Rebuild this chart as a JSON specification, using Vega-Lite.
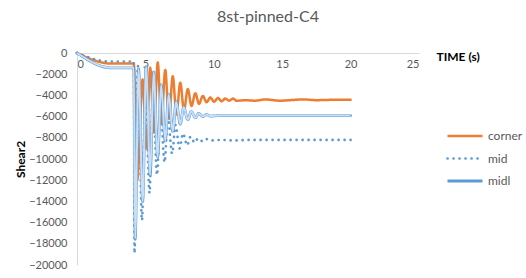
{
  "$schema": "https://vega.github.io/schema/vega-lite/v6.json",
  "width": 342,
  "height": 212,
  "autosize": {"type": "none"},
  "padding": {"left": 77, "top": 53, "right": 107, "bottom": 13},
  "background": "white",
  "title": {"text": "8st-pinned-C4", "fontSize": 16, "font": "Lato", "fontWeight": "normal", "color": "#595959", "anchor": "middle", "frame": "group", "dx": 20, "offset": 22},
  "config": {"view": {"stroke": null}},
  "data": {"values": [
    {"s":"corner","t":0,"v":0},{"s":"corner","t":2.5,"v":-1000},{"s":"corner","t":4.15,"v":-1000},
    {"s":"corner","t":4.4,"v":-12000},{"s":"corner","t":4.8,"v":-2500},{"s":"corner","t":5.07,"v":-9000},
    {"s":"corner","t":5.35,"v":-1400},{"s":"corner","t":5.62,"v":-7500},{"s":"corner","t":5.9,"v":-900},
    {"s":"corner","t":6.17,"v":-6600},{"s":"corner","t":6.45,"v":-1600},{"s":"corner","t":6.72,"v":-6200},
    {"s":"corner","t":7.0,"v":-2200},{"s":"corner","t":7.27,"v":-5800},{"s":"corner","t":7.55,"v":-2800},
    {"s":"corner","t":7.82,"v":-5400},{"s":"corner","t":8.1,"v":-3400},{"s":"corner","t":8.37,"v":-5000},
    {"s":"corner","t":8.65,"v":-3800},{"s":"corner","t":8.92,"v":-4800},{"s":"corner","t":9.2,"v":-4050},
    {"s":"corner","t":9.47,"v":-4650},{"s":"corner","t":9.75,"v":-4200},{"s":"corner","t":10.02,"v":-4600},
    {"s":"corner","t":10.3,"v":-4250},{"s":"corner","t":10.57,"v":-4550},{"s":"corner","t":10.85,"v":-4300},
    {"s":"corner","t":11.12,"v":-4500},{"s":"corner","t":11.4,"v":-4300},{"s":"corner","t":11.67,"v":-4500},
    {"s":"corner","t":12.3,"v":-4450},{"s":"corner","t":13.0,"v":-4500},{"s":"corner","t":13.8,"v":-4380},
    {"s":"corner","t":14.8,"v":-4500},{"s":"corner","t":15.6,"v":-4450},{"s":"corner","t":16.5,"v":-4380},
    {"s":"corner","t":17.5,"v":-4450},{"s":"corner","t":18.5,"v":-4420},{"s":"corner","t":19.3,"v":-4400},
    {"s":"corner","t":20,"v":-4400},

    {"s":"mid","t":0,"v":0},{"s":"mid","t":2.4,"v":-800},{"s":"mid","t":4.15,"v":-800},
    {"s":"mid","t":4.2,"v":-18900},{"s":"mid","t":4.45,"v":-1200},{"s":"mid","t":4.75,"v":-15800},
    {"s":"mid","t":5.0,"v":-2500},{"s":"mid","t":5.3,"v":-13200},{"s":"mid","t":5.55,"v":-3800},
    {"s":"mid","t":5.85,"v":-11500},{"s":"mid","t":6.1,"v":-5000},{"s":"mid","t":6.4,"v":-10300},
    {"s":"mid","t":6.65,"v":-6000},{"s":"mid","t":6.95,"v":-9500},{"s":"mid","t":7.2,"v":-6800},
    {"s":"mid","t":7.5,"v":-9000},{"s":"mid","t":7.75,"v":-7600},{"s":"mid","t":8.05,"v":-8700},
    {"s":"mid","t":8.3,"v":-7900},{"s":"mid","t":8.6,"v":-8450},{"s":"mid","t":8.85,"v":-8050},
    {"s":"mid","t":9.15,"v":-8300},{"s":"mid","t":9.4,"v":-8100},{"s":"mid","t":9.7,"v":-8250},
    {"s":"mid","t":10.6,"v":-8200},{"s":"mid","t":11.5,"v":-8250},{"s":"mid","t":12.5,"v":-8200},
    {"s":"mid","t":20,"v":-8200},

    {"s":"midl","t":0,"v":0},{"s":"midl","t":2.5,"v":-1400},{"s":"midl","t":4.15,"v":-1400},
    {"s":"midl","t":4.25,"v":-17500},{"s":"midl","t":4.5,"v":-1500},{"s":"midl","t":4.8,"v":-14000},
    {"s":"midl","t":5.05,"v":-1300},{"s":"midl","t":5.35,"v":-11500},{"s":"midl","t":5.6,"v":-1800},
    {"s":"midl","t":5.9,"v":-9800},{"s":"midl","t":6.15,"v":-3000},{"s":"midl","t":6.45,"v":-8300},
    {"s":"midl","t":6.7,"v":-3900},{"s":"midl","t":7.0,"v":-7400},{"s":"midl","t":7.25,"v":-4600},
    {"s":"midl","t":7.55,"v":-6700},{"s":"midl","t":7.8,"v":-5100},{"s":"midl","t":8.1,"v":-6300},
    {"s":"midl","t":8.35,"v":-5500},{"s":"midl","t":8.65,"v":-6100},{"s":"midl","t":8.9,"v":-5700},
    {"s":"midl","t":9.2,"v":-6000},{"s":"midl","t":9.45,"v":-5800},{"s":"midl","t":9.75,"v":-5950},
    {"s":"midl","t":10.5,"v":-5900},{"s":"midl","t":20,"v":-5900}
  ]},
  "encoding": {
    "x": {"field": "t", "type": "quantitative",
      "scale": {"domain": [0, 25], "nice": false},
      "axis": {"orient": "bottom", "offset": -212, "values": [0,5,10,15,20,25], "ticks": false,
        "labelPadding": 5, "labelFontSize": 11, "labelFont": "Lato", "labelColor": "#595959",
        "domainColor": "#D9D9D9", "grid": false,
        "title": "TIME (s)", "titleFont": "Lato", "titleFontSize": 12, "titleFontWeight": "bold", "titleColor": "#000000",
        "titleX": 359, "titleY": 3, "titleAlign": "left", "titleBaseline": "middle", "titleAnchor": null}},
    "y": {"field": "v", "type": "quantitative",
      "scale": {"domain": [-20000, 0], "nice": false},
      "axis": {"values": [0,-2000,-4000,-6000,-8000,-10000,-12000,-14000,-16000,-18000,-20000],
        "ticks": false, "labelPadding": 10, "labelFontSize": 11, "labelFont": "Lato", "labelColor": "#595959",
        "domainColor": "#D9D9D9", "grid": false, "format": "d",
        "title": "Shear2", "titleFont": "Lato", "titleFontSize": 12, "titleFontWeight": "bold", "titleColor": "#000000", "titlePadding": 1}}
  },
  "layer": [
    {
      "mark": {"type": "line", "interpolate": "monotone", "strokeCap": "round"},
      "encoding": {
        "color": {"field": "s", "type": "nominal",
          "scale": {"domain": ["corner","mid","midl"], "range": ["#ED7D31","#5B9BD5","#5B9BD5"]},
          "legend": {"title": null, "orient": "none", "legendX": 369, "legendY": 75,
            "symbolType": "stroke", "symbolSize": 1225, "clipHeight": 16, "labelFontSize": 12, "labelFont": "Lato", "labelColor": "#595959",
            "rowPadding": 6.5, "labelOffset": 4, "padding": 0,
            "encode": {"symbols": {"update": {
              "stroke": {"signal": "datum.value === 'midl' ? '#9DC3E6' : datum.value === 'mid' ? '#5B9BD5' : '#ED7D31'"},
              "strokeCap": {"signal": "datum.value === 'mid' ? 'round' : 'butt'"},
              "strokeWidth": {"signal": "datum.value === 'midl' ? 4 : datum.value === 'mid' ? 2.8 : 2.5"}}}}}},
        "strokeDash": {"field": "s", "type": "nominal",
          "scale": {"domain": ["corner","mid","midl"], "range": [[1,0],[0.1,5.9],[1,0]]}, "legend": null},
        "strokeWidth": {"field": "s", "type": "nominal",
          "scale": {"domain": ["corner","mid","midl"], "range": [2.5, 2.8, 4.5]}, "legend": null},
        "order": {"field": "t", "type": "quantitative"}
      }
    },
    {
      "transform": [{"filter": "datum.s === 'midl'"}],
      "mark": {"type": "line", "interpolate": "monotone", "color": "#C9DEF2", "strokeWidth": 2},
      "encoding": {"order": {"field": "t", "type": "quantitative"}}
    }
  ]
}
